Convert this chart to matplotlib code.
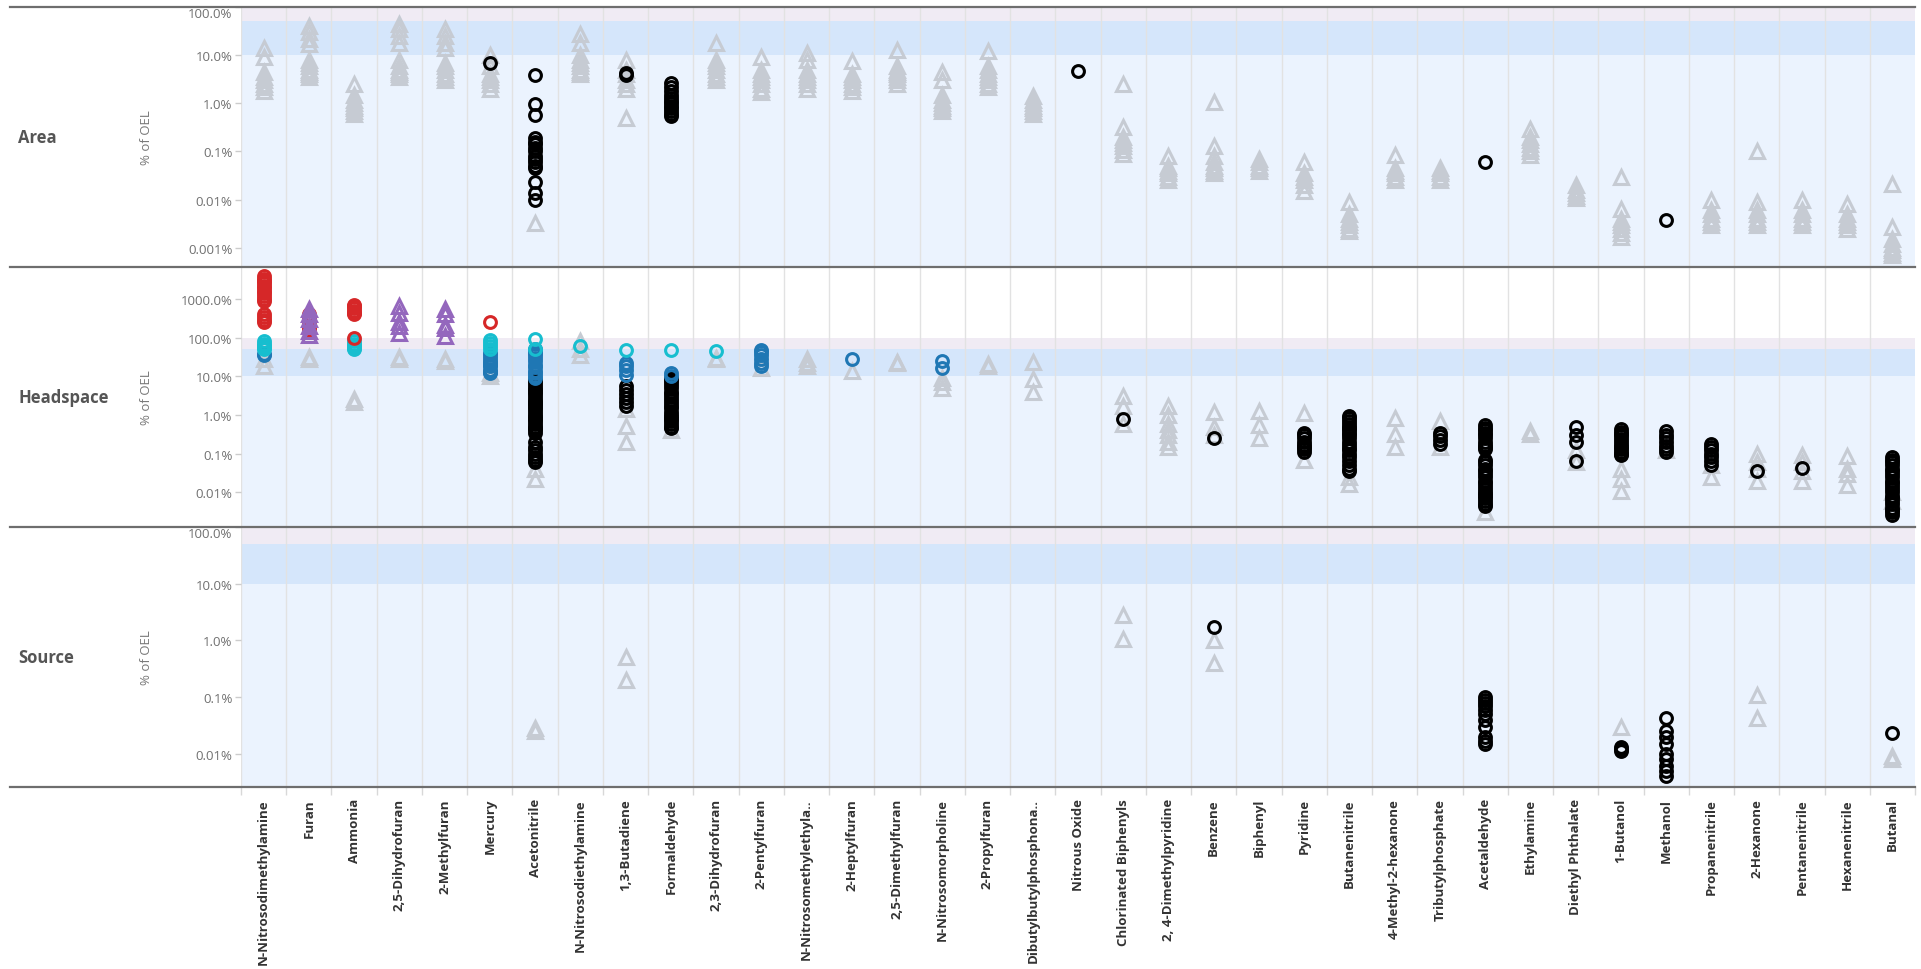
import matplotlib
matplotlib.use("Agg")
import matplotlib.pyplot as plt
from matplotlib.lines import Line2D
from matplotlib.ticker import FixedLocator, NullLocator

plt.rcParams['font.family'] = ['Open Sans', 'DejaVu Sans']

categories = [
    "N-Nitrosodimethylamine", "Furan", "Ammonia", "2,5-Dihydrofuran", "2-Methylfuran",
    "Mercury", "Acetonitrile", "N-Nitrosodiethylamine", "1,3-Butadiene", "Formaldehyde",
    "2,3-Dihydrofuran", "2-Pentylfuran", "N-Nitrosomethylethyla..", "2-Heptylfuran",
    "2,5-Dimethylfuran", "N-Nitrosomorpholine", "2-Propylfuran", "Dibutylbutylphosphona..",
    "Nitrous Oxide", "Chlorinated Biphenyls", "2, 4-Dimethylpyridine", "Benzene", "Biphenyl",
    "Pyridine", "Butanenitrile", "4-Methyl-2-hexanone", "Tributylphosphate", "Acetaldehyde",
    "Ethylamine", "Diethyl Phthalate", "1-Butanol", "Methanol", "Propanenitrile", "2-Hexanone",
    "Pentanenitrile", "Hexanenitrile", "Butanal",
]

# values are % of OEL
area_gray = {
    "N-Nitrosodimethylamine": [14, 9, 4.5, 3.5, 3, 2.5, 2.2, 1.8],
    "Furan": [40, 30, 22, 17, 8, 7, 6, 5, 4.5, 4, 3.5],
    "Ammonia": [2.5, 1.5, 1.2, 1.0, 0.9, 0.8, 0.7, 0.6],
    "2,5-Dihydrofuran": [45, 35, 25, 18, 8, 6, 5, 4.5, 4, 3.5],
    "2-Methylfuran": [35, 25, 18, 14, 7, 6, 5, 4, 3.5, 3],
    "Mercury": [10, 6, 4, 3.5, 3, 2.5, 2],
    "Acetonitrile": [0.0033],
    "N-Nitrosodiethylamine": [27, 18, 10, 8, 7, 6, 5, 4.5, 4],
    "1,3-Butadiene": [8, 5, 4, 3, 2.5, 2, 0.5],
    "2,3-Dihydrofuran": [18, 8, 7, 6, 5, 4, 3.5, 3],
    "2-Pentylfuran": [9, 5, 4, 3.5, 3, 2.5, 2, 1.7],
    "N-Nitrosomethylethyla..": [11, 8, 5, 4, 3.5, 3, 2.5, 2],
    "2-Heptylfuran": [7.5, 4, 3.5, 3, 2.5, 2.2, 1.8],
    "2,5-Dimethylfuran": [13, 6, 5, 4.5, 4, 3.5, 3, 2.5],
    "N-Nitrosomorpholine": [4.4, 3, 1.5, 1.2, 1.0, 0.9, 0.8, 0.7],
    "2-Propylfuran": [12, 6, 5, 4, 3.5, 3, 2.5, 2.2],
    "Dibutylbutylphosphona..": [1.4, 1.2, 1.0, 0.9, 0.8, 0.7, 0.6],
    "Chlorinated Biphenyls": [2.5, 0.33, 0.2, 0.17, 0.15, 0.13, 0.11, 0.09],
    "2, 4-Dimethylpyridine": [0.08, 0.05, 0.045, 0.04, 0.035, 0.03, 0.025],
    "Benzene": [1.05, 0.13, 0.08, 0.06, 0.05, 0.045, 0.04, 0.035],
    "Biphenyl": [0.07, 0.06, 0.05, 0.045, 0.04],
    "Pyridine": [0.06, 0.035, 0.03, 0.025, 0.02, 0.015],
    "Butanenitrile": [0.009, 0.005, 0.004, 0.0035, 0.003, 0.0025, 0.0022],
    "4-Methyl-2-hexanone": [0.085, 0.045, 0.04, 0.035, 0.03, 0.025],
    "Tributylphosphate": [0.045, 0.04, 0.035, 0.03, 0.025],
    "Ethylamine": [0.3, 0.2, 0.17, 0.14, 0.12, 0.1, 0.085],
    "Diethyl Phthalate": [0.02, 0.016, 0.014, 0.012, 0.011],
    "1-Butanol": [0.03, 0.0065, 0.004, 0.0035, 0.003, 0.0025, 0.002, 0.0017],
    "Propanenitrile": [0.01, 0.006, 0.005, 0.004, 0.0035, 0.003],
    "2-Hexanone": [0.1, 0.009, 0.006, 0.005, 0.004, 0.0035, 0.003],
    "Pentanenitrile": [0.01, 0.006, 0.005, 0.004, 0.0035, 0.003],
    "Hexanenitrile": [0.008, 0.005, 0.004, 0.0035, 0.003, 0.0025],
    "Butanal": [0.021, 0.0027, 0.0015, 0.0012, 0.001, 0.0009, 0.0008, 0.0007],
}
area_black = {
    "Mercury": [7],
    "Acetonitrile": [3.8, 0.95, 0.56, 0.19, 0.16, 0.14, 0.12, 0.1, 0.08, 0.07, 0.06,
                     0.05, 0.045, 0.023, 0.014, 0.01],
    "1,3-Butadiene": [4.2, 3.9],
    "Formaldehyde": [2.6, 2.2, 1.8, 1.5, 1.3, 1.1, 1.0, 0.9, 0.8, 0.7, 0.6, 0.55],
    "Nitrous Oxide": [4.6],
    "Acetaldehyde": [0.06],
    "Methanol": [0.0038],
}

hs_gray = {
    "N-Nitrosodimethylamine": [28, 19],
    "Furan": [32, 28],
    "Ammonia": [2.6, 2.2],
    "2,5-Dihydrofuran": [32, 28],
    "2-Methylfuran": [28, 25],
    "Mercury": [12, 10],
    "Acetonitrile": [0.04, 0.022],
    "N-Nitrosodiethylamine": [80, 50, 35],
    "1,3-Butadiene": [1.4, 0.52, 0.2],
    "Formaldehyde": [0.4],
    "2,3-Dihydrofuran": [30, 28],
    "2-Pentylfuran": [16],
    "N-Nitrosomethylethyla..": [28, 22, 18],
    "2-Heptylfuran": [14],
    "2,5-Dimethylfuran": [24, 22],
    "N-Nitrosomorpholine": [9, 7, 5],
    "2-Propylfuran": [21, 19],
    "Dibutylbutylphosphona..": [23, 8.5, 4],
    "Chlorinated Biphenyls": [3.1, 1.7, 0.6],
    "2, 4-Dimethylpyridine": [1.7, 1.0, 0.6, 0.4, 0.3, 0.2, 0.15],
    "Benzene": [1.2, 0.5, 0.3],
    "Biphenyl": [1.3, 0.55, 0.25],
    "Pyridine": [1.1, 0.07],
    "Butanenitrile": [0.025, 0.016],
    "4-Methyl-2-hexanone": [0.85, 0.32, 0.15],
    "Tributylphosphate": [0.7, 0.15],
    "Acetaldehyde": [0.003],
    "Ethylamine": [0.38, 0.33],
    "Diethyl Phthalate": [0.12, 0.06],
    "1-Butanol": [0.04, 0.022, 0.011],
    "Methanol": [0.12],
    "Propanenitrile": [0.05, 0.025],
    "2-Hexanone": [0.1, 0.06, 0.04, 0.02],
    "Pentanenitrile": [0.09, 0.06, 0.035, 0.02],
    "Hexanenitrile": [0.085, 0.04, 0.03, 0.015],
    "Butanal": [0.006, 0.01],
}
hs_black = {
    "Acetonitrile": [8, 7, 6, 5, 4.5, 4, 3.5, 3, 2.5, 2.2, 2, 1.8, 1.6, 1.4, 1.2, 1.0, 0.9,
                     0.8, 0.7, 0.6, 0.5, 0.45, 0.4, 0.35, 0.2, 0.15, 0.12, 0.1, 0.08, 0.07, 0.06],
    "1,3-Butadiene": [5.5, 4.5, 3.5, 2.8, 2.2, 1.7],
    "Formaldehyde": [9, 8, 7, 6, 5, 4, 3.5, 3, 2.5, 2, 1.7, 1.5, 1.2, 1.0, 0.9, 0.8, 0.7,
                     0.6, 0.5, 0.45],
    "Chlorinated Biphenyls": [0.8],
    "Benzene": [0.25],
    "Pyridine": [0.35, 0.3, 0.25, 0.2, 0.17, 0.15, 0.13, 0.11],
    "Butanenitrile": [0.95, 0.85, 0.7, 0.6, 0.5, 0.45, 0.4, 0.35, 0.3, 0.25, 0.2, 0.17,
                      0.14, 0.12, 0.1, 0.08, 0.065, 0.05, 0.04, 0.035],
    "Tributylphosphate": [0.35, 0.28, 0.22, 0.18],
    "Acetaldehyde": [0.55, 0.45, 0.4, 0.35, 0.3, 0.25, 0.2, 0.17, 0.15, 0.13, 0.07, 0.06,
                     0.05, 0.04, 0.035, 0.03, 0.025, 0.02, 0.017, 0.014, 0.012, 0.01, 0.009,
                     0.008, 0.007, 0.006, 0.005, 0.0045],
    "Diethyl Phthalate": [0.5, 0.3, 0.2, 0.065],
    "1-Butanol": [0.42, 0.37, 0.32, 0.28, 0.24, 0.2, 0.17, 0.15, 0.13, 0.11, 0.1, 0.09],
    "Methanol": [0.38, 0.3, 0.25, 0.2, 0.16, 0.13, 0.11],
    "Propanenitrile": [0.18, 0.15, 0.12, 0.1, 0.08, 0.065, 0.05],
    "2-Hexanone": [0.036],
    "Pentanenitrile": [0.042],
    "Butanal": [0.08, 0.07, 0.06, 0.05, 0.04, 0.035, 0.03, 0.025, 0.02, 0.017, 0.014, 0.012,
                0.01, 0.008, 0.007, 0.006, 0.005, 0.004, 0.0035, 0.003, 0.0025],
}
hs_red = {
    "N-Nitrosodimethylamine": [3900, 3400, 3000, 2600, 2200, 1900, 1600, 1400, 1200, 1000,
                               900, 420, 350, 280, 260],
    "Furan": [420, 330, 250, 180, 160],
    "Ammonia": [720, 650, 580, 500, 450, 420, 100],
    "Mercury": [255],
}
hs_purple = {
    "Furan": [560, 400, 300, 200, 150, 120],
    "2,5-Dihydrofuran": [650, 450, 250, 200, 130],
    "2-Methylfuran": [550, 400, 220, 180, 110],
}
hs_cyan = {
    "N-Nitrosodimethylamine": [80, 70, 60, 55, 50],
    "Ammonia": [80, 70, 60, 55, 50],
    "Mercury": [90, 75, 60, 50],
    "Acetonitrile": [93, 50],
    "N-Nitrosodiethylamine": [60],
    "1,3-Butadiene": [48],
    "Formaldehyde": [48],
    "2,3-Dihydrofuran": [45],
}
hs_blue = {
    "N-Nitrosodimethylamine": [38, 35],
    "Mercury": [40, 35, 30, 25, 22, 20, 18, 15, 13, 12],
    "Acetonitrile": [50, 45, 40, 35, 30, 25, 20, 17, 14, 12, 10, 9],
    "1,3-Butadiene": [22, 18, 15, 11],
    "Formaldehyde": [12, 10],
    "2-Pentylfuran": [48, 42, 35, 28, 22, 19],
    "2-Heptylfuran": [28],
    "N-Nitrosomorpholine": [25, 16],
}

src_gray = {
    "Acetonitrile": [0.028, 0.025],
    "1,3-Butadiene": [0.52, 0.2],
    "Chlorinated Biphenyls": [2.8, 1.05],
    "Benzene": [1.0, 0.4],
    "1-Butanol": [0.03],
    "2-Hexanone": [0.11, 0.042],
    "Butanal": [0.009, 0.008],
}
src_black = {
    "Benzene": [1.7],
    "Acetaldehyde": [0.1, 0.09, 0.08, 0.07, 0.06, 0.05, 0.04, 0.03, 0.02, 0.017, 0.015],
    "1-Butanol": [0.013, 0.012, 0.011],
    "Methanol": [0.042, 0.025, 0.02, 0.015, 0.01, 0.008, 0.006, 0.005, 0.004],
    "Butanal": [0.023],
}

area_ticks = [100, 10, 1, 0.1, 0.01, 0.001]
area_labels = ["100.0%", "10.0%", "1.0%", "0.1%", "0.01%", "0.001%"]
hs_ticks = [1000, 100, 10, 1, 0.1, 0.01]
hs_labels = ["1000.0%", "100.0%", "10.0%", "1.0%", "0.1%", "0.01%"]
src_ticks = [100, 10, 1, 0.1, 0.01]
src_labels = ["100.0%", "10.0%", "1.0%", "0.1%", "0.01%"]

GRAY = "#c6cbd3"
RED = "#d62728"
PURPLE = "#9467bd"
CYAN = "#17becf"
BLUE = "#1f77b4"

W, H = 1921, 970
fig = plt.figure(figsize=(W / 100, H / 100), dpi=100)
px_left, px_right = 241, 1915


def draw(ax, data, marker, color, ms, z):
    for name, vals in data.items():
        i = categories.index(name)
        ax.plot([i] * len(vals), vals, ls="none", marker=marker, ms=ms, mfc="none",
                mec=color, mew=2.2, zorder=z)


panels = [
    ("Area", 8, 268, (4.0e-4, 100), area_ticks, area_labels,
     [(area_gray, "^", GRAY, 10.5), (area_black, "o", "black", 8.5)]),
    ("Headspace", 268, 528, (1.25e-3, 6800), hs_ticks, hs_labels,
     [(hs_gray, "^", GRAY, 10.5), (hs_black, "o", "black", 8.5), (hs_blue, "o", BLUE, 8.5),
      (hs_cyan, "o", CYAN, 8.5), (hs_red, "o", RED, 8.5), (hs_purple, "^", PURPLE, 10.5)]),
    ("Source", 528, 788, (2.6e-3, 100), src_ticks, src_labels,
     [(src_gray, "^", GRAY, 10.5), (src_black, "o", "black", 8.5)]),
]

n = len(categories)
for k, (title, top, bottom, ylim, ticks, labels, series) in enumerate(panels):
    ax = fig.add_axes([px_left / W, 1 - bottom / H, (px_right - px_left) / W, (bottom - top) / H])
    ax.set_yscale("log")
    ax.set_ylim(*ylim)
    ax.set_xlim(-0.5, n - 0.5)
    ax.set_facecolor("white")
    ax.axhspan(ylim[0], 10, color="#ebf3fe", lw=0, zorder=0)
    ax.axhspan(10, 50, color="#d5e6fb", lw=0, zorder=0)
    ax.axhspan(50, 100, color="#f0ebf4", lw=0, zorder=0)
    for b in range(n):
        ax.axvline(b - 0.5, color="#e2e2e2", lw=1, zorder=0.5)
    for spine in ax.spines.values():
        spine.set_visible(False)

    ax.yaxis.set_major_locator(FixedLocator(ticks))
    ax.yaxis.set_minor_locator(NullLocator())
    ax.set_yticklabels(labels)
    ax.tick_params(axis="y", length=4, width=1, color="#cccccc", labelsize=9.5,
                   labelcolor="#707070", pad=2)
    if ticks[0] == ylim[1]:
        ax.get_yticklabels()[0].set_verticalalignment("top")

    for z, (data, marker, color, ms) in enumerate(series):
        draw(ax, data, marker, color, ms, 3 + z)

    if k == len(panels) - 1:
        ax.set_xticks(range(n))
        ax.set_xticklabels(categories, rotation=90, fontsize=9.5, fontweight="bold",
                           color="#333333", va="top", ha="center")
        ax.set_xticks([b - 0.5 for b in range(n + 1)], minor=True)
        ax.tick_params(axis="x", which="major", length=0, pad=8)
        ax.tick_params(axis="x", which="minor", length=6, width=1, color="#d8d8d8")
    else:
        ax.set_xticks([])

    mid = (top + bottom) / 2
    fig.text(18 / W, 1 - mid / H, title, fontsize=12, fontweight="bold", color="#555555",
             va="center", ha="left")
    fig.text(147 / W, 1 - mid / H, "% of OEL", fontsize=9.5, color="#777777", rotation=90,
             va="center", ha="center")

for y in [8, 268, 528, 788]:
    fig.add_artist(Line2D([10 / W, px_right / W], [1 - y / H, 1 - y / H],
                          color="#6e6e6e", lw=1.6))

fig.savefig("out.png", dpi=100)
